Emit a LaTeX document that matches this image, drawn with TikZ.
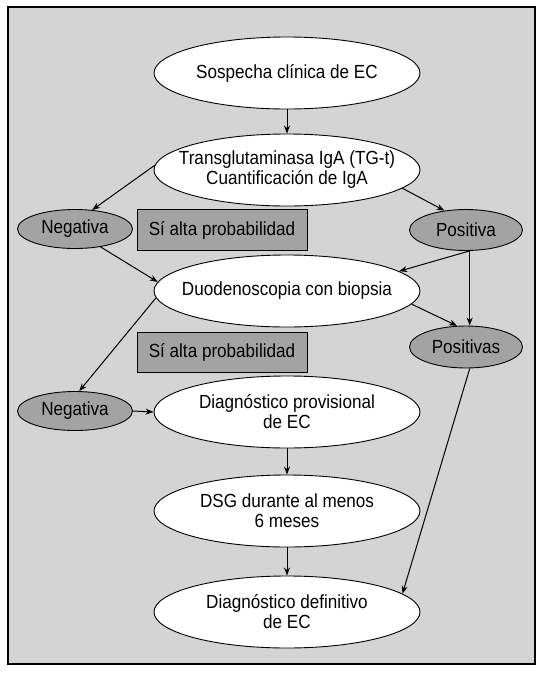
\documentclass[tikz,border=0pt]{standalone}
\usepackage{fontspec}
\setmainfont[FakeStretch=0.9]{Liberation Sans}
\usetikzlibrary{shapes.geometric,arrows.meta}
\definecolor{bggray}{RGB}{212,212,212}
\definecolor{nodegray}{RGB}{163,163,163}
\begin{document}
\begin{tikzpicture}[x=1pt,y=-1pt,
  font=\fontsize{19}{20}\selectfont,
  bigell/.style={ellipse, draw=black, line width=0.9pt, fill=white,
    minimum width=266pt, minimum height=72pt, inner sep=0pt},
  smallell/.style={ellipse, draw=black, line width=0.9pt, fill=nodegray,
    minimum width=115pt, minimum height=39pt, inner sep=0pt},
  greybox/.style={rectangle, draw=black, line width=0.9pt, fill=nodegray,
    minimum width=170pt, minimum height=41pt, inner sep=0pt},
  arr/.style={-{Stealth[length=8pt,width=6pt]}, line width=1pt},
  txt/.style={align=center}
]
\useasboundingbox (0,0) rectangle (549,673);
\fill[bggray] (8,7) rectangle (535,664);
\draw[line width=1.8pt] (8,7) rectangle (535,664);

\node[bigell, label={[txt]center:Sospecha clínica de EC}] (sosp) at (287,73) {};
\node[bigell, label={[txt]center:{Transglutaminasa IgA (TG-t)\\Cuantificación de IgA}}] (tg) at (287,170) {};
\node[smallell] (neg1) at (75,229) {Negativa};
\node[greybox] (box1) at (222,230) {Sí alta probabilidad};
\node[smallell, minimum width=113pt, minimum height=41pt] (pos1) at (466,230) {Positiva};
\node[bigell, label={[txt]center:Duodenoscopia con biopsia}] (duo) at (287,291) {};
\node[greybox, minimum height=40pt] (box2) at (222,352) {Sí alta probabilidad};
\node[smallell, minimum width=113pt, minimum height=42pt] (poss) at (466,347) {Positivas};
\node[smallell] (neg2) at (75,411) {Negativa};
\node[bigell, label={[txt]center:{Diagnóstico provisional\\de EC}}] (prov) at (287,412) {};
\node[bigell, label={[txt]center:{DSG durante al menos\\6 meses}}] (dsg) at (287,511) {};
\node[bigell, label={[txt]center:{Diagnóstico definitivo\\de EC}}] (def) at (287,612) {};

\draw[arr] (sosp.south) -- (tg.north);
\draw[arr] (tg.178) -- (neg1.48);
\draw[arr] (tg.-9) -- (pos1.138);
\draw[arr] (neg1.-35) -- (duo.176);
\draw[arr] (pos1.-80) -- (duo.10);
\draw[arr] (pos1.-80) -- (pos1.-80 |- poss.north);
\draw[arr] (duo.-6) -- (poss.113);
\draw[arr] (duo.183) -- (neg2.78);
\draw[arr] (neg2.east) -- (prov.west);
\draw[arr] (prov.south) -- (dsg.north);
\draw[arr] (dsg.south) -- (def.north);
\draw[arr] (poss.-80) -- (def.9);
\end{tikzpicture}
\end{document}
